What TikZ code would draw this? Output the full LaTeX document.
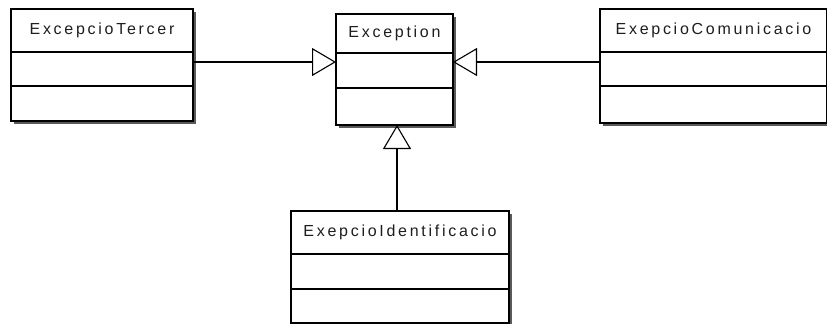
\documentclass[tikz,border=0pt]{standalone}
\usepackage{fontspec}
\setmainfont{Liberation Sans}[LetterSpace=17]
\usetikzlibrary{arrows.meta,calc}
\definecolor{shadowgray}{HTML}{5A5A5A}
\definecolor{inkgray}{HTML}{1E1E1E}
\tikzset{
  classbox/.style={draw=black, line width=1.1pt, fill=white, anchor=north west,
    inner sep=0pt, outer sep=0pt},
  boxshadow/.style={draw=shadowgray, line width=2.4pt},
  divider/.style={draw=black, line width=1.1pt},
  classname/.style={font=\fontsize{16}{16}\selectfont, text=inkgray, inner sep=0pt},
  inherit/.style={draw=black, line width=1.4pt,
    -{Triangle[open, length=24pt, width=28pt, line width=1.1pt]}},
}
\begin{document}
\begin{tikzpicture}[x=1pt, y=-1pt]
\useasboundingbox (0,0) rectangle (827,325);

% ExcepcioTercer
\node[classbox, minimum width=182pt, minimum height=112pt] (ter) at (11,9) {};
\draw[boxshadow] ($(ter.north east)+(2,3)$) -- ($(ter.south east)+(2,2)$) -- ($(ter.south west)+(3,2)$);
\draw[divider] ($(ter.north west)+(0,43)$) -- ($(ter.north east)+(0,43)$);
\draw[divider] ($(ter.north west)+(0,77)$) -- ($(ter.north east)+(0,77)$);
\node[classname] (tername) at ($(ter.north)+(0,21.5)$) {ExcepcioTercer};

% Exception
\node[classbox, minimum width=117pt, minimum height=111pt] (exc) at (336,14) {};
\draw[boxshadow] ($(exc.north east)+(2,3)$) -- ($(exc.south east)+(2,2)$) -- ($(exc.south west)+(3,2)$);
\draw[divider] ($(exc.north west)+(0,39)$) -- ($(exc.north east)+(0,39)$);
\draw[divider] ($(exc.north west)+(0,74)$) -- ($(exc.north east)+(0,74)$);
\node[classname] (excname) at ($(exc.north)+(0,19.5)$) {Exception};

% ExepcioComunicacio
\node[classbox, minimum width=227pt, minimum height=114pt] (com) at (600,9) {};
\draw[boxshadow] ($(com.south west)+(3,2)$) -- ($(com.south east)+(2,2)$);
\draw[divider] ($(com.north west)+(0,43)$) -- ($(com.north east)+(0,43)$);
\draw[divider] ($(com.north west)+(0,77)$) -- ($(com.north east)+(0,77)$);
\node[classname] (comname) at ($(com.north)+(0,21.5)$) {ExepcioComunicacio};

% ExepcioIdentificacio
\node[classbox, minimum width=218pt, minimum height=112pt] (ide) at (291,211) {};
\draw[boxshadow] ($(ide.north east)+(2,3)$) -- ($(ide.south east)+(2,1)$);
\draw[divider] ($(ide.north west)+(0,43)$) -- ($(ide.north east)+(0,43)$);
\draw[divider] ($(ide.north west)+(0,78)$) -- ($(ide.north east)+(0,78)$);
\node[classname] (idename) at ($(ide.north)+(0,21.5)$) {ExepcioIdentificacio};

% Connection points
\coordinate (terport) at ($(ter.north east)+(0,53)$);
\coordinate (excleft) at ($(exc.north west)+(0,48)$);
\coordinate (excright) at ($(exc.north east)+(0,48)$);
\coordinate (comport) at ($(com.north west)+(0,53)$);
\coordinate (excbottom) at ($(exc.south west)+(61,0)$);
\coordinate (ideport) at ($(ide.north west)+(106,0)$);

% Generalisations
\draw[inherit] (terport) -- (excleft);
\draw[inherit] (comport) -- (excright);
\draw[inherit] (ideport) -- (excbottom);
\end{tikzpicture}
\end{document}
